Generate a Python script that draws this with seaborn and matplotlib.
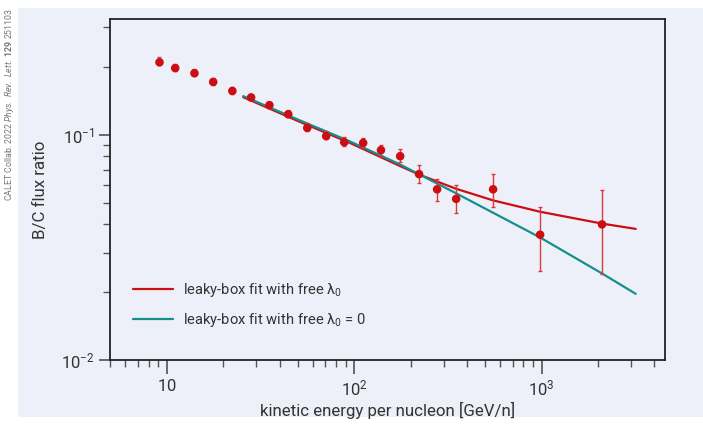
import matplotlib
matplotlib.use("Agg")
import matplotlib.pyplot as plt
import matplotlib.ticker as mticker
from matplotlib.patches import Rectangle
import seaborn as sns
import pandas as pd

# ---- data ----
energy = [9.15, 11.1, 14.06, 17.7, 22.4, 28.2, 35.3, 44.5, 56.2, 70.9,
          88.5, 111.7, 139, 176, 222, 277, 350, 551, 982, 2100]
ratio = [0.209, 0.197, 0.187, 0.171, 0.156, 0.146, 0.135, 0.123, 0.107, 0.0984,
         0.0925, 0.0918, 0.0853, 0.0802, 0.0668, 0.0572, 0.0519, 0.0572, 0.0360, 0.0400]
ratio_lo = [0.203, 0.191, 0.182, 0.166, 0.151, 0.142, 0.131, 0.119, 0.1035, 0.0952,
            0.0893, 0.0877, 0.0806, 0.0752, 0.0608, 0.0509, 0.0449, 0.0479, 0.0249, 0.0240]
ratio_hi = [0.220, 0.206, 0.195, 0.178, 0.163, 0.152, 0.140, 0.128, 0.112, 0.1034,
            0.0975, 0.0963, 0.0903, 0.0859, 0.0730, 0.0636, 0.0599, 0.0672, 0.0480, 0.0569]

fit_free_E = [25.6, 51.0, 94.2, 174, 222, 350, 551, 982, 2109, 3178]
fit_free_R = [0.1464, 0.1141, 0.0921, 0.0728, 0.0665, 0.0575, 0.0511, 0.0455, 0.0403, 0.0382]

fit_zero_E = [25.6, 51.0, 94.2, 174, 350, 982, 2109, 3178]
fit_zero_R = [0.148, 0.1158, 0.0935, 0.0740, 0.0549, 0.0350, 0.0242, 0.0197]

label_free = r"leaky-box fit with free $\mathrm{\lambda}_0$"
label_zero = r"leaky-box fit with free $\mathrm{\lambda}_0$ = 0"
xtick_vals = [10, 100, 1000]
xtick_labels = [r"$10$", r"$10^2$", r"$10^3$"]
ytick_vals = [0.01, 0.1]
ytick_labels = [r"$10^{-2}$", r"$10^{-1}$"]
credit = r"CALET Collab. 2022 $\it{Phys.\ Rev.\ Lett.}$ $\bf{129}$ 251103"

# ---- style ----
BG = "#eef0f9"
RED = "#cc0d12"
TEAL = "#13908c"
TXT = "#333333"

sns.set_style("ticks")
plt.rcParams["font.family"] = ["Roboto", "DejaVu Sans"]
plt.rcParams["mathtext.fontset"] = "custom"
plt.rcParams["mathtext.rm"] = "Roboto"
plt.rcParams["mathtext.it"] = "Roboto:italic"
plt.rcParams["mathtext.bf"] = "Roboto:bold"

fig = plt.figure(figsize=(7.03, 4.25), dpi=100, facecolor="white")
fig.patches.append(Rectangle((18 / 703, 1 - 417 / 425), (703 - 18) / 703, (417 - 8) / 425,
                             transform=fig.transFigure, facecolor=BG, edgecolor="none", zorder=-10))
ax = fig.add_axes([110.3 / 703, 1 - 360.3 / 425, 555 / 703, 341 / 425])
ax.set_facecolor(BG)

df_free = pd.DataFrame({"E": fit_free_E, "R": fit_free_R})
df_zero = pd.DataFrame({"E": fit_zero_E, "R": fit_zero_R})
df_pts = pd.DataFrame({"E": energy, "R": ratio})

sns.lineplot(data=df_free, x="E", y="R", ax=ax, color=RED, lw=1.6, label=label_free, zorder=3)
sns.lineplot(data=df_zero, x="E", y="R", ax=ax, color=TEAL, lw=1.6, label=label_zero, zorder=3)

yerr = [[r - lo for r, lo in zip(ratio, ratio_lo)], [hi - r for r, hi in zip(ratio, ratio_hi)]]
ax.errorbar(energy, ratio, yerr=yerr, fmt="none", ecolor="#d9393f", elinewidth=1.0,
            capsize=1.5, capthick=1.0, zorder=4)
sns.scatterplot(data=df_pts, x="E", y="R", ax=ax, color=RED, s=38, edgecolor="none",
                zorder=5, legend=False)

ax.set_xscale("log")
ax.set_yscale("log")
ax.set_xlim(5, 4570)
ax.set_ylim(0.01, 0.324)

ax.xaxis.set_major_locator(mticker.FixedLocator(xtick_vals))
ax.xaxis.set_major_formatter(mticker.FixedFormatter(xtick_labels))
ax.xaxis.set_minor_locator(mticker.LogLocator(base=10, subs=range(2, 10), numticks=20))
ax.xaxis.set_minor_formatter(mticker.NullFormatter())
ax.yaxis.set_major_locator(mticker.FixedLocator(ytick_vals))
ax.yaxis.set_major_formatter(mticker.FixedFormatter(ytick_labels))
ax.yaxis.set_minor_locator(mticker.LogLocator(base=10, subs=range(2, 10), numticks=20))
ax.yaxis.set_minor_formatter(mticker.NullFormatter())

for s in ax.spines.values():
    s.set_color("#222222")
    s.set_linewidth(1.3)

ax.tick_params(axis="x", which="major", direction="out", length=10, width=1.1,
               color="#444444", labelsize=12, labelcolor=TXT, pad=3)
ax.tick_params(axis="y", which="major", direction="out", length=8, width=1.1,
               color="#444444", labelsize=12, labelcolor=TXT, pad=3)
ax.tick_params(which="minor", direction="out", length=5, width=1.0, color="#555555")

ax.set_xlabel("kinetic energy per nucleon [GeV/n]", fontsize=12.2, color=TXT, labelpad=3)
ax.set_ylabel("B/C flux ratio", fontsize=12.2, color=TXT, labelpad=10)

leg = ax.legend(loc="upper left", bbox_to_anchor=(0.0414, 0.2326), frameon=False,
                fontsize=10.6, handlelength=2.7, handletextpad=0.65, labelspacing=0.85,
                borderpad=0, borderaxespad=0)
for t in leg.get_texts():
    t.set_color(TXT)

fig.text(10 / 703, 1 - 8 / 425, credit, rotation=90, ha="center", va="top",
         fontsize=6.3, color="#777777")

fig.savefig("out.png", dpi=100, facecolor=fig.get_facecolor())
